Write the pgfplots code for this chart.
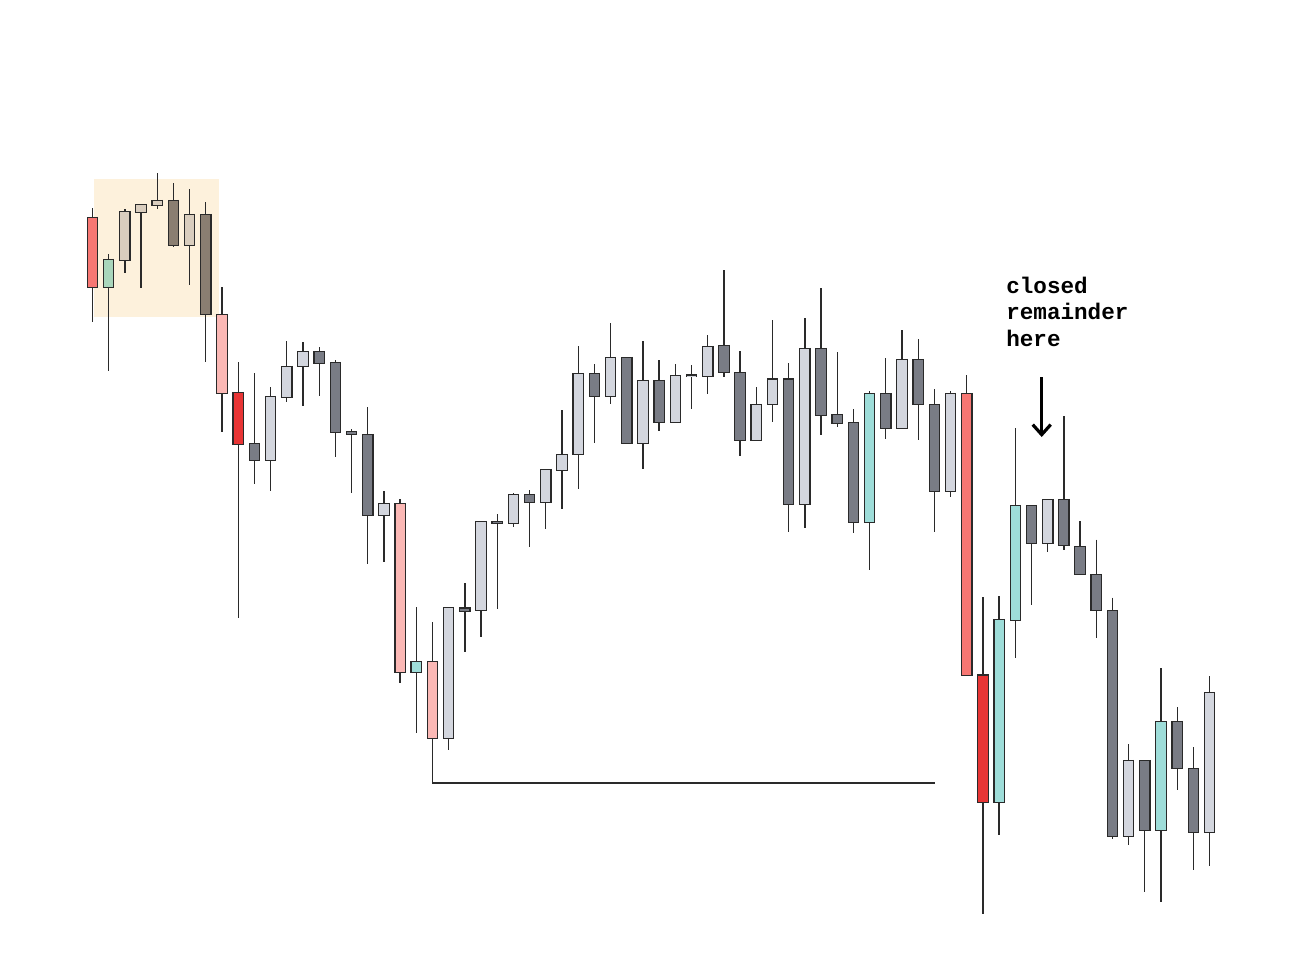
\documentclass[border=0pt]{standalone}
\usepackage{pgfplots}
\pgfplotsset{compat=1.18}
\usepackage{pgfplotstable}
\usepackage{fontspec}
\newfontfamily\monob{Liberation Mono}
\usetikzlibrary{arrows.meta}

\definecolor{c1}{HTML}{F77773}
\definecolor{c2}{HTML}{A9D6BC}
\definecolor{c3}{HTML}{D9CDBE}
\definecolor{c4}{HTML}{8A7E71}
\definecolor{c5}{HTML}{FBB8B5}
\definecolor{c6}{HTML}{E83535}
\definecolor{c7}{HTML}{797C85}
\definecolor{c8}{HTML}{D3D6DE}
\definecolor{c9}{HTML}{9EDDD9}
\definecolor{hl}{HTML}{FDF1DC}
\definecolor{ink}{HTML}{2A2A2A}

% i = candle index, hi/lo = wick ends, top/bot = body, k = colour class
% (values in picture pixels, y grows downward)
\pgfplotstableread{
i  hi    top   bot   lo    k
1  208   218   287   322   1
2  254   260   287   371   2
3  209   212   260   273   3
4  205   205   212   288   3
5  173   201   204.5 209   3
6  183   201   245   247   4
7  189   215   245   285   3
8  202   215   314   362   4
9  287   315   393   432   5
10 362   393   444   618   6
11 373   444   460   484   7
12 387   397   460   491   8
13 341   367   397   402   8
14 342   352   366   406   8
15 347   352   363   396   7
16 360   363   432   457   7
17 429   432   434   493   7
18 407   435   515   564   7
19 491   504   515   562   8
20 499   504   672   683   5
21 607   662   672   733   9
22 622   662   738   760   5
23 607   608   738   750   8
24 583   608.5 610.5 652   7
25 522   522   610   637   8
26 514   522   523   609   7
27 493   495   523   527   8
28 490   495   502   547   7
29 469   470   502   529   8
30 410   455   470   509   8
31 346   374   454   489   8
32 364   374   396   443   7
33 323   358   396   404   8
34 358   358   443   443   7
35 341   381   443   469   8
36 360   381   422   431   7
37 364   376   422   422   8
38 365   375.5 376   409   8
39 335   347   376   394   8
40 270   346   372   377   7
41 351   373   440   456   7
42 387   405   440   440   8
43 320   379.5 404   422   8
44 363   379.5 504   532   7
45 318   349   504   528   8
46 288   349   415   435   7
47 352   415   422.5 427   7
48 409   423   522   533   7
49 391   394   522   570   9
50 358   394   427.5 439   7
51 330   360   427.5 427.5 8
52 339   360   404   440   7
53 389   405   491   532   7
54 391   394   491   496.5 8
55 375   394   675   675   1
56 597   675.5 802   914   6
57 596   620   802   834.5 9
58 428   506   620   658   9
59 506   506   543   605   7
60 500   500   543   552   8
61 416   500   545   550   7
62 521   547   574   574   7
63 539.5 575   610   637.5 7
64 597.5 611   836   839   7
65 744   761   836   845   8
66 761   761   830   892   7
67 668   722   830   902   9
68 707   722   768   789.5 7
69 747   769   832   870   7
70 676   693   832   866   8
}\candles

\pgfplotsset{
  stick/.style 2 args={forget plot, mark=none, draw opacity=0,
    error bars/y dir=plus, error bars/y explicit, error bars/error mark=none,
    error bars/error bar style={line width=#1, draw opacity=1, color=#2}},
}

\begin{document}
\begin{tikzpicture}
\begin{axis}[
  scale only axis,
  width=646pt, height=485pt,
  xmin=-4.713, xmax=75.09,
  ymin=0, ymax=970,
  y dir=reverse,
  hide axis,
  clip=false,
]
\path (rel axis cs:0,0) rectangle (rel axis cs:1,1);

% highlighted opening range
\addplot[fill=hl, draw=none, forget plot] coordinates {
  (1.09,179) (8.81,179) (8.81,317) (1.09,317)};

% level line
\addplot[ink, line width=0.65pt, forget plot] coordinates {
  (22,738) (22,783) (53.04,783)};

% wicks
\addplot[stick={0.65pt}{ink}]
  table[x=i, y=hi, y error expr=\thisrow{lo}-\thisrow{hi}] \candles;

% body outlines
\addplot[stick={5.8pt}{ink}]
  table[x=i, y expr=\thisrow{top}-1.2, y error expr=\thisrow{bot}-\thisrow{top}+2.4] \candles;

% body fills by colour class
\pgfplotsinvokeforeach{1,...,9}{
  \addplot[stick={4.6pt}{c#1}, restrict expr to domain={\thisrow{k}}{#1:#1}]
    table[x=i, y=top, y error expr=\thisrow{bot}-\thisrow{top}] \candles;
}

% annotation
\addplot[black, line width=1.6pt, forget plot,
  -{Straight Barb[length=5pt, width=9pt]}] coordinates {(59.63,377) (59.63,437)};
\node[anchor=base west, inner sep=0pt, font=\monob\bfseries\fontsize{11.3}{13}\selectfont]
  at (axis cs:57.42,293) {closed};
\node[anchor=base west, inner sep=0pt, font=\monob\bfseries\fontsize{11.3}{13}\selectfont]
  at (axis cs:57.42,319.5) {remainder};
\node[anchor=base west, inner sep=0pt, font=\monob\bfseries\fontsize{11.3}{13}\selectfont]
  at (axis cs:57.42,346) {here};
\end{axis}
\end{tikzpicture}
\end{document}
